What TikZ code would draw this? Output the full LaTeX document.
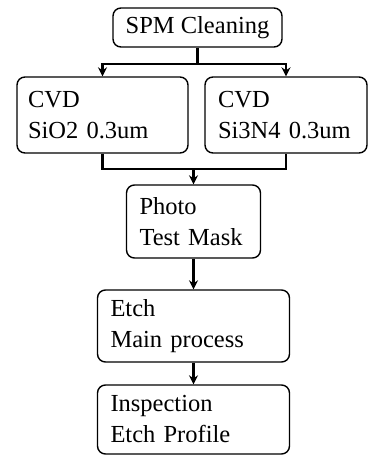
\documentclass[tikz,border=0pt]{standalone}
\usepackage{fontspec}
\setmainfont{Liberation Serif}
\usetikzlibrary{calc}
\usetikzlibrary{arrows.meta}

\begin{document}
\begin{tikzpicture}[>={Stealth[length=9pt,width=9pt,inset=3pt]},x=1pt,y=-1pt,
    stepbox/.style={draw,line width=1.4pt,rounded corners=8pt,align=left,
        inner xsep=0pt,inner ysep=0pt,font=\fontsize{24.5}{31}\selectfont},
    conn/.style={line width=2.1pt}]
                        \useasboundingbox (0,0) rectangle (369,455);
                        % process boxes
                        \node[stepbox,align=center,minimum width=169pt,minimum height=39pt] (spm) at (197.5,27.5) {SPM Cleaning};
                        \node[stepbox,minimum width=171pt,minimum height=76pt,text width=149pt] (sio) at (102.5,115) {CVD\\SiO2 0.3um};
                        \node[stepbox,minimum width=162pt,minimum height=76pt,text width=136pt] (sin) at (286,115) {CVD\\Si3N4 0.3um};
                        \node[stepbox,minimum width=134pt,minimum height=73pt,text width=108pt] (photo) at (193.5,221.5) {Photo\\Test Mask};
                        \node[stepbox,minimum width=192pt,minimum height=72pt,text width=166pt] (etch) at (193.5,326) {Etch\\Main process};
                        \node[stepbox,minimum width=192pt,minimum height=69pt,text width=166pt] (insp) at (193.5,419.5) {Inspection\\Etch Profile};
                        % connectors
                        \draw[conn] (spm.south) -- ++(0,16) coordinate (fork);
                        \draw[conn,->] (fork) -| (sio.north);
                        \draw[conn,->] (fork) -| (sin.north);
                        \coordinate (join) at (photo.north |- 0,169);
                        \draw[conn] (sio.south) |- (join) -| (sin.south);
                        \draw[conn,->] (join) -- (photo.north);
                        \draw[conn,->] (photo) -- (etch);
                        \draw[conn,->] (etch) -- (insp);
                    \end{tikzpicture}
\end{document}
